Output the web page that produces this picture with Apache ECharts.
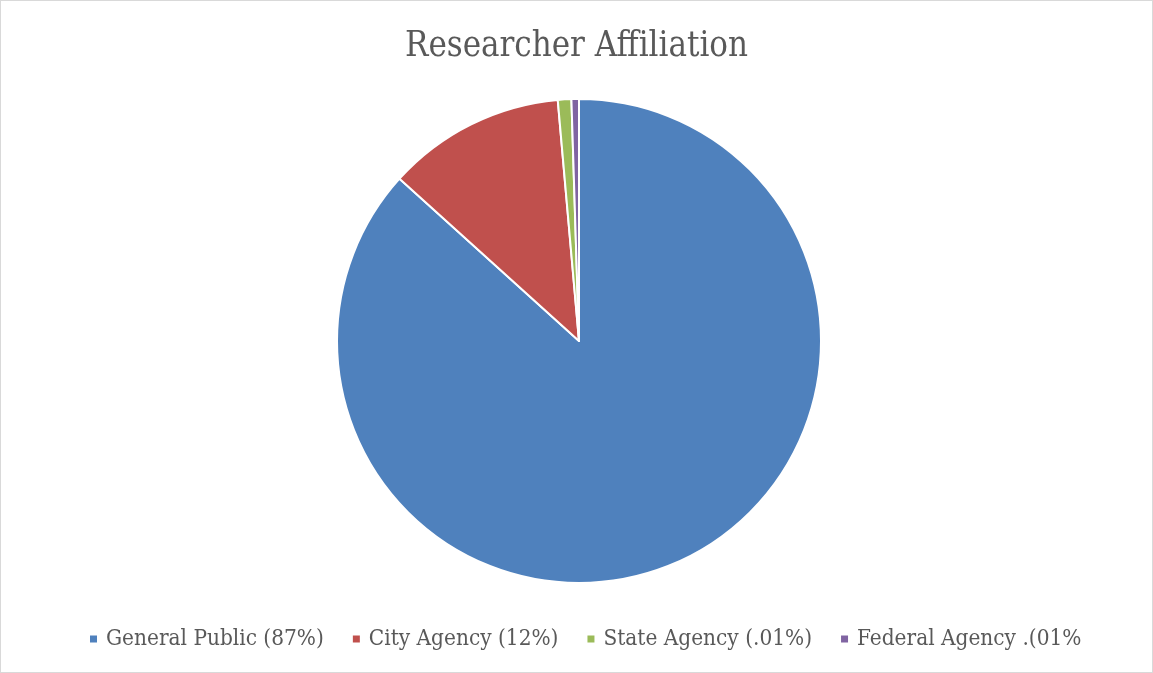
<!doctype html>
<html lang="en">
<head>
    <meta charset="UTF-8">
    <title>Researcher Affiliation</title>
    <script src="https://cdn.jsdelivr.net/npm/echarts@6/dist/echarts.min.js"></script>
    <style>
        html, body {
            margin: 0;
            padding: 0;
            background-color: white;
        }

        #mainChart {
            width: 1151px;
            height: 671px;
            border: 1px #d9d9d9 solid;
        }
    </style>
</head>
<body>
<div id="mainChart"></div>
<script>
    // 图表数据
    let categories = ['General Public (87%)', 'City Agency (12%)', 'State Agency (.01%)', 'Federal Agency .(01%'];
    let values = [86.7, 11.9, 0.9, 0.5];
    let colors = ['#4F81BD', '#C0504D', '#9BBB59', '#8064A2'];

    function chartInit() {
        let myChart = echarts.init(document.getElementById('mainChart'));

        let pieData = [];
        for (let i = 0; i < categories.length; i++) {
            pieData.push({name: categories[i], value: values[i]});
        }

        let option = {
            title: {
                text: 'Researcher Affiliation',
                left: 'center',
                top: 24,
                textStyle: {
                    fontFamily: 'DejaVu Serif Condensed',
                    fontSize: 34.5,
                    fontWeight: 'normal',
                    color: '#595959'
                }
            },
            legend: {
                bottom: 17,
                left: 82,
                icon: 'rect',
                itemWidth: 9,
                itemHeight: 9,
                itemGap: 27,
                textStyle: {
                    fontFamily: 'DejaVu Serif Condensed',
                    fontSize: 22.4,
                    color: '#595959',
                    padding: [0, 0, 0, 3]
                }
            },
            color: colors,
            series: [{
                name: 'Researcher Affiliation',
                type: 'pie',
                center: [578, 340],
                radius: 242,
                startAngle: 90,
                clockwise: true,
                label: {show: false},
                labelLine: {show: false},
                itemStyle: {
                    borderColor: '#ffffff',
                    borderWidth: 2
                },
                emphasis: {disabled: true},
                animation: false,
                data: pieData
            }]
        };

        myChart.setOption(option);
    }

    chartInit();
</script>
</body>
</html>
